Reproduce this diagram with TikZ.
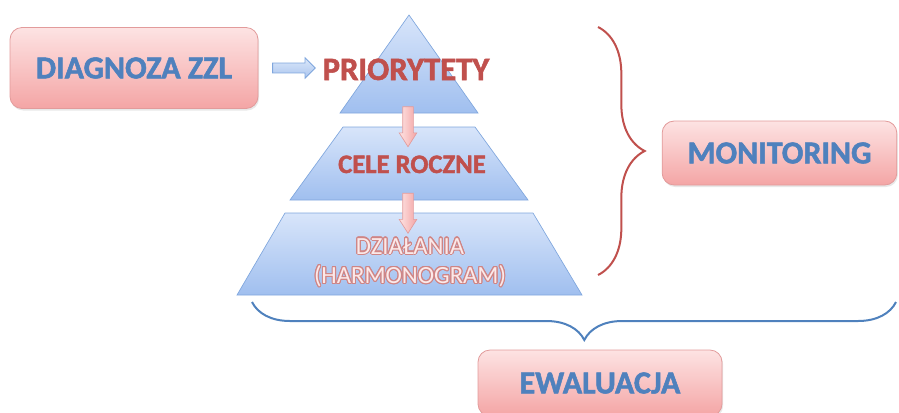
\documentclass[tikz,border=0pt]{standalone}
\usepackage{fontspec}
\setmainfont{Carlito}[BoldFeatures={FakeBold=1.6}]
\usepackage{contour}
\usetikzlibrary{shapes.arrows,decorations.pathreplacing,shadows}
\definecolor{boxtop}{HTML}{FDE3E3}
\definecolor{boxbottom}{HTML}{F4A5A5}
\definecolor{boxline}{HTML}{E29B9B}
\definecolor{officeblue}{HTML}{4F81BD}
\definecolor{officered}{HTML}{C0504D}
\definecolor{pyrtop}{HTML}{D8E5FA}
\definecolor{pyrbottom}{HTML}{A0BFEF}
\definecolor{pyrline}{HTML}{7FA6DD}
\definecolor{linktop}{HTML}{DCE8FA}
\definecolor{linkbottom}{HTML}{A9C4EE}
\definecolor{actfill}{HTML}{FBE9E9}
\definecolor{actline}{HTML}{D08585}
\contourlength{0.8pt}

\begin{document}
\begin{tikzpicture}[
  x=0.75pt, y=-0.75pt,
  labelbox/.style={draw=boxline, line width=0.6pt, rounded corners=9pt,
    top color=boxtop, bottom color=boxbottom, text=officeblue,
    font=\fontsize{24}{28}\selectfont\bfseries, inner sep=0pt,
    drop shadow={opacity=0.18, shadow xshift=0.8pt, shadow yshift=-1.5pt}},
  layer/.style={draw=pyrline, line width=0.5pt,
    top color=pyrtop, bottom color=pyrbottom},
  level/.style={text=officered, anchor=base},
  downarrow/.style={single arrow, rotate=-90, draw=boxline, line width=0.5pt,
    left color=boxtop, right color=boxbottom, inner sep=3.75pt,
    minimum height=30pt, minimum width=12.75pt,
    single arrow head extend=2.6pt, single arrow tip angle=65},
  linkarrow/.style={single arrow, draw=pyrline, line width=0.6pt,
    top color=linktop, bottom color=linkbottom, inner sep=3.4pt,
    minimum height=32pt, minimum width=15pt,
    single arrow head extend=4pt},
  redbrace/.style={draw=officered, line width=1.5pt, decorate,
    decoration={brace, amplitude=35pt, aspect=0.5}},
  bluebrace/.style={draw=officeblue, line width=1.5pt, decorate,
    decoration={brace, amplitude=28.5pt, aspect=0.484}}
]
\useasboundingbox (0,0) rectangle (899,412);

% pyramid
\draw[layer] (409,15) -- (478,113) -- (340,113) -- cycle;
\draw[layer] (343,127) -- (475,127) -- (528,200) -- (290,200) -- cycle;
\draw[layer] (285,213) -- (533,213) -- (582,295) -- (237,295) -- cycle;

\node[labelbox, minimum width=186pt, minimum height=60.75pt]
  (diag) at (134,68) {DIAGNOZA ZZL};
\node[linkarrow] (link) at (291.5,68) {};

\node[level, font=\fontsize{24.5}{28}\selectfont\bfseries]
  (prio) at (406,80) {PRIORYTETY};
\node[downarrow] (step1) at (408,122.5) {};
\node[level, font=\fontsize{20}{23}\selectfont\bfseries]
  (cele) at (412,173) {CELE ROCZNE};
\node[downarrow] (step2) at (408,209) {};
\node[text=actfill, align=center,
  font=\fontsize{18.5}{22}\selectfont]
  (dzial) at (410,263)
  {\contour{actline}{DZIAŁANIA}\\\contour{actline}{(HARMONOGRAM)}};

\draw[redbrace] (598,27) -- (598,275);
\node[labelbox, minimum width=176pt, minimum height=48pt]
  (monit) at (779.5,153) {MONITORING};

\draw[bluebrace] (896,302) -- (252,302);
\node[labelbox, minimum width=183pt, minimum height=49.5pt]
  (ewal) at (600,383) {EWALUACJA};
\end{tikzpicture}
\end{document}
